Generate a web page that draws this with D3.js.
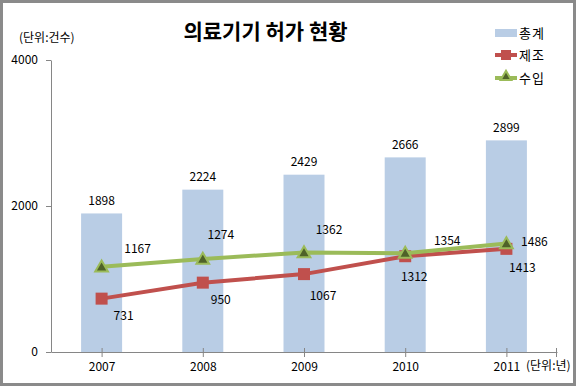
<!DOCTYPE html>
<html>
<head>
<meta charset="utf-8">
<script src="https://cdn.jsdelivr.net/npm/d3@7"></script>
<style>
  body { margin: 0; background: #fff; }
  text { font-family: "Noto Sans CJK KR", "Noto Sans", sans-serif; fill: #000; }
</style>
</head>
<body>
<div id="chart"></div>
<script>
// data
var years = ["2007", "2008", "2009", "2010", "2011"];
var total = [1898, 2224, 2429, 2666, 2899];
var made = [731, 950, 1067, 1312, 1413];
var imported = [1167, 1274, 1362, 1354, 1486];
var yTicks = [0, 2000, 4000];

// hand nudges for the line labels (Excel placed them by hand)
var madeNudge = [[22, 17], [18, 17], [19, 22], [9, 21], [16, 19]];
var importNudge = [[36, -18], [18, -24], [25, -23], [42, -12], [28, -2]];

var wt = 576, ht = 386;
var red = "#C0504D", green = "#9BBB59", blue = "#B9CDE5", axisCol = "#868686";
var fs = "12px";

var svg = d3.select("#chart").append("svg")
    .attr("width", wt)
    .attr("height", ht);

svg.append("rect")
    .attr("x", 1.5).attr("y", 1.5)
    .attr("width", wt - 3).attr("height", ht - 3)
    .attr("fill", "#fff")
    .attr("stroke", "#8a8a8a")
    .attr("stroke-width", 3);

var x = d3.scalePoint()
    .domain(years)
    .range([51, 557])
    .padding(0.5);

var y = d3.scaleLinear()
    .domain([0, 4000])
    .range([352, 60]);

// bars (총계)
svg.selectAll(".bar")
    .data(total)
    .enter().append("rect")
    .attr("class", "bar")
    .attr("x", function (d, i) { return x(years[i]) - 20.5; })
    .attr("width", 41)
    .attr("y", function (d) { return y(d); })
    .attr("height", function (d) { return y(0) - y(d); })
    .attr("fill", blue);

svg.selectAll(".barlabel")
    .data(total)
    .enter().append("text")
    .attr("class", "barlabel")
    .attr("x", function (d, i) { return x(years[i]); })
    .attr("y", function (d) { return y(d) - 13; })
    .attr("dy", "0.35em")
    .attr("text-anchor", "middle")
    .style("font-size", fs)
    .text(function (d) { return d; });

// axes
var yAxis = svg.append("g")
    .attr("transform", "translate(51,0)")
    .call(d3.axisLeft(y).tickValues(yTicks).tickSize(5).tickSizeOuter(0).tickPadding(8).tickFormat(d3.format("d")));
yAxis.select(".domain").attr("stroke", axisCol);
yAxis.selectAll("line").attr("stroke", axisCol);
yAxis.selectAll("text").style("font-size", fs).attr("font-family", null);

var xAxis = svg.append("g")
    .attr("transform", "translate(0,352)")
    .call(d3.axisBottom(x).tickSize(5).tickSizeOuter(0).tickPadding(5));
xAxis.select(".domain").attr("stroke", axisCol);
xAxis.selectAll("line").attr("stroke", axisCol).attr("y1", -4);
xAxis.selectAll("text").style("font-size", fs).attr("font-family", null);
xAxis.append("line")
    .attr("x1", 556.5).attr("x2", 556.5)
    .attr("y1", -4).attr("y2", 5)
    .attr("stroke", axisCol);

// lines
var line = d3.line()
    .x(function (d, i) { return x(years[i]); })
    .y(function (d) { return y(d); });

svg.append("path")
    .datum(made)
    .attr("d", line)
    .attr("fill", "none")
    .attr("stroke", red)
    .attr("stroke-width", 4);

svg.selectAll(".sq")
    .data(made)
    .enter().append("rect")
    .attr("class", "sq")
    .attr("x", function (d, i) { return x(years[i]) - 6; })
    .attr("y", function (d) { return y(d) - 6; })
    .attr("width", 12).attr("height", 12)
    .attr("fill", red);

svg.append("path")
    .datum(imported)
    .attr("d", line)
    .attr("fill", "none")
    .attr("stroke", green)
    .attr("stroke-width", 4);

var tri = d3.symbol().type(d3.symbolTriangle).size(70);
svg.selectAll(".tri")
    .data(imported)
    .enter().append("path")
    .attr("class", "tri")
    .attr("d", tri)
    .attr("transform", function (d, i) { return "translate(" + x(years[i]) + "," + (y(d) + 1) + ")"; })
    .attr("fill", "#4F6228")
    .attr("stroke", green)
    .attr("stroke-width", 2);

svg.selectAll(".madelabel")
    .data(made)
    .enter().append("text")
    .attr("class", "madelabel")
    .attr("x", function (d, i) { return x(years[i]) + madeNudge[i][0]; })
    .attr("y", function (d, i) { return y(d) + madeNudge[i][1]; })
    .attr("dy", "0.35em")
    .attr("text-anchor", "middle")
    .style("font-size", fs)
    .text(function (d) { return d; });

svg.selectAll(".implabel")
    .data(imported)
    .enter().append("text")
    .attr("class", "implabel")
    .attr("x", function (d, i) { return x(years[i]) + importNudge[i][0]; })
    .attr("y", function (d, i) { return y(d) + importNudge[i][1]; })
    .attr("dy", "0.35em")
    .attr("text-anchor", "middle")
    .style("font-size", fs)
    .text(function (d) { return d; });

// title and unit notes
svg.append("text")
    .attr("x", 265.5).attr("y", 32)
    .attr("dy", "0.35em")
    .attr("text-anchor", "middle")
    .style("font-size", "21px")
    .style("font-weight", "bold")
    .text("의료기기 허가 현황");

svg.append("text")
    .attr("x", 19).attr("y", 38)
    .attr("dy", "0.35em")
    .style("font-size", fs)
    .text("(단위:건수)");

svg.append("text")
    .attr("x", 526).attr("y", 366)
    .attr("dy", "0.35em")
    .style("font-size", fs)
    .text("(단위:년)");

// legend
var legend = svg.append("g");
var legY = [33, 55, 78];
legend.append("rect")
    .attr("x", 495).attr("y", legY[0] - 4)
    .attr("width", 22).attr("height", 8)
    .attr("fill", blue);
legend.append("line")
    .attr("x1", 495).attr("x2", 517)
    .attr("y1", legY[1]).attr("y2", legY[1])
    .attr("stroke", red).attr("stroke-width", 4);
legend.append("rect")
    .attr("x", 501).attr("y", legY[1] - 5)
    .attr("width", 10).attr("height", 10)
    .attr("fill", red);
legend.append("line")
    .attr("x1", 495).attr("x2", 517)
    .attr("y1", legY[2]).attr("y2", legY[2])
    .attr("stroke", green).attr("stroke-width", 4);
legend.append("path")
    .attr("d", d3.symbol().type(d3.symbolTriangle).size(50))
    .attr("transform", "translate(506," + (legY[2] - 1) + ")")
    .attr("fill", "#4F6228")
    .attr("stroke", green)
    .attr("stroke-width", 2);
legend.selectAll(".legtext")
    .data(["총계", "제조", "수입"])
    .enter().append("text")
    .attr("class", "legtext")
    .attr("x", 519)
    .attr("y", function (d, i) { return legY[i]; })
    .attr("dy", "0.35em")
    .style("font-size", "13px")
    .style("letter-spacing", "1px")
    .text(function (d) { return d; });
</script>
</body>
</html>
